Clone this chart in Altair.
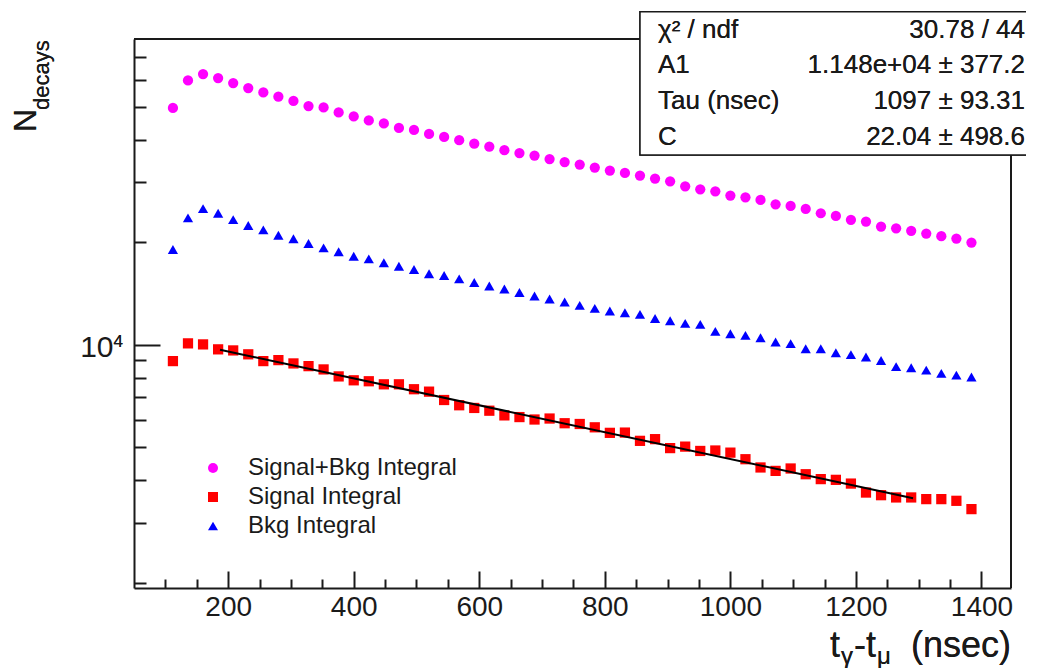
import altair as alt
import pandas as pd

# ---------------- data ----------------
t_ns = [112, 136, 160, 184, 208, 232, 256, 280, 304, 328, 352, 376, 400, 424, 448, 472, 496, 520,
        544, 568, 592, 616, 640, 664, 688, 712, 736, 760, 784, 808, 832, 856, 880, 904, 928, 952,
        976, 1000, 1024, 1048, 1072, 1096, 1120, 1144, 1168, 1192, 1216, 1240, 1264, 1288, 1312,
        1336, 1360, 1384]

sig_bkg = [49550, 59700, 62330, 60670, 58660, 56720, 55060, 53490, 51950, 50220, 49750, 48090,
           46810, 45560, 44650, 43290, 42710, 41570, 40740, 39860, 38930, 38150, 37260, 36520,
           35910, 35070, 34370, 33790, 33110, 32450, 31950, 31370, 30740, 30180, 29180, 28600,
           28210, 27410, 27090, 26620, 25840, 25560, 25050, 24320, 23890, 23260, 22990, 22230,
           21970, 21590, 21200, 20820, 20500, 19950]

signal = [8950, 10090, 10020, 9690, 9620, 9370, 8950, 9010, 8810, 8650, 8460, 8070, 7860, 7810,
          7650, 7650, 7400, 7280, 6880, 6640, 6520, 6400, 6200, 6130, 6030, 6070, 5880, 5850,
          5720, 5510, 5520, 5220, 5280, 4970, 5020, 4875, 4890, 4820, 4610, 4360, 4260, 4330,
          4165, 4030, 4010, 3910, 3680, 3615, 3560, 3560, 3520, 3520, 3480, 3290]

bkg = [19030, 23570, 25100, 24320, 23300, 22380, 21740, 20960, 20460, 19820, 19250, 18740, 18190,
       17870, 17400, 17000, 16630, 16150, 15970, 15600, 15230, 14870, 14570, 14230, 13900, 13620,
       13350, 13040, 12780, 12560, 12410, 12270, 11940, 11760, 11550, 11470, 10940, 10770, 10650,
       10480, 10180, 10070, 9730, 9730, 9470, 9350, 9200, 8990, 8620, 8560, 8420, 8240, 8140, 8040]

series_names = ["Signal+Bkg Integral", "Signal Integral", "Bkg Integral"]
series_colors = ["#ff00ff", "#ff0000", "#0000ff"]
series_shapes = ["circle", "square", "triangle-up"]

fit_t = [187, 1291]
fit_n = [9661, 3543]

x_major_ticks = [200, 400, 600, 800, 1000, 1200, 1400]
x_minor_ticks = [100, 150, 250, 300, 350, 450, 500, 550, 650, 700, 750, 850, 900, 950,
                 1050, 1100, 1150, 1250, 1300, 1350]
y_major_ticks = [10000]
y_minor_ticks = [2000, 3000, 4000, 5000, 6000, 7000, 8000, 9000,
                 20000, 30000, 40000, 50000, 60000, 70000]

stats_names = ["\u03c7\u00b2 / ndf", "A1", "Tau (nsec)", "C"]
stats_values = ["30.78 / 44", "1.148e+04 \u00b1 377.2", "1097 \u00b1 93.31", "22.04 \u00b1 498.6"]

# ---------------- layout ----------------
W, H = 877, 549
LEFT, TOP = 134, 39          # page position of plot origin
FONT = "Liberation Sans"
INK = "#1a1a1a"

rows = []
for name, vals in zip(series_names, [sig_bkg, signal, bkg]):
    for t, n in zip(t_ns, vals):
        rows.append({"t": t, "n": n, "series": name})
df = pd.DataFrame(rows)
fit_df = pd.DataFrame({"t": fit_t, "n": fit_n})

xs = alt.Scale(domain=[50, 1447], nice=False, zero=False)
ys = alt.Scale(type="log", domain=[1930, 79000], nice=False)

legend = alt.Legend(title=None, orient="none", legendX=67, legendY=417, symbolSize=100,
                    labelFont=FONT, labelFontSize=24, labelColor=INK, labelOffset=23,
                    rowPadding=5, padding=0, symbolStrokeWidth=0, labelLimit=400)
color = alt.Color("series:N", scale=alt.Scale(domain=series_names, range=series_colors), legend=legend)
shape = alt.Shape("series:N", scale=alt.Scale(domain=series_names, range=series_shapes), legend=legend)

common_axis = dict(grid=False, title=None, tickColor=INK, domainColor=INK, tickWidth=2, domainWidth=2)

ax_x_lab = alt.Axis(orient="bottom", values=x_major_ticks, ticks=False, domain=True, format="d",
                    labelFont=FONT, labelFontSize=28, labelColor=INK, labelPadding=5, **common_axis)
ax_x_maj = alt.Axis(orient="bottom", values=x_major_ticks, labels=False, domain=False,
                    tickSize=17, offset=-17, **common_axis)
ax_x_min = alt.Axis(orient="bottom", values=x_minor_ticks, labels=False, domain=False,
                    tickSize=9, offset=-9, **common_axis)
ax_y_lab = alt.Axis(orient="left", values=y_major_ticks, ticks=False, domain=True,
                    labelExpr="'10'", labelFont=FONT, labelFontSize=30, labelColor=INK,
                    labelPadding=21, labelOffset=3, **common_axis)
ax_y_maj = alt.Axis(orient="left", values=y_major_ticks, labels=False, domain=False,
                    tickSize=26, offset=-26, **common_axis)
ax_y_min = alt.Axis(orient="left", values=y_minor_ticks, labels=False, domain=False,
                    tickSize=12, offset=-12, **common_axis)

base = alt.Chart(df)


def pts(name, ax_x, ax_y):
    return base.transform_filter(alt.datum.series == name).mark_point(
        filled=True, opacity=1, size=105, strokeWidth=0
    ).encode(
        x=alt.X("t:Q", scale=xs, axis=ax_x),
        y=alt.Y("n:Q", scale=ys, axis=ax_y),
        color=color,
        shape=shape,
    )


layer_sb = pts(series_names[0], ax_x_lab, ax_y_lab)
layer_s = pts(series_names[1], ax_x_maj, ax_y_maj)
layer_b = pts(series_names[2], ax_x_min, ax_y_min)

fit_line = alt.Chart(fit_df).mark_line(color="black", strokeWidth=2).encode(
    x=alt.X("t:Q", scale=xs, axis=None),
    y=alt.Y("n:Q", scale=ys, axis=None),
)

frame_top = alt.Chart(fit_df).mark_rule(color=INK, strokeWidth=2).encode(
    x=alt.value(0), x2=alt.value(W), y=alt.value(0))
frame_right = alt.Chart(fit_df).mark_rule(color=INK, strokeWidth=2).encode(
    x=alt.value(W), y=alt.value(0), y2=alt.value(H))

# stats box (page coords -> plot coords)
box = alt.Chart(fit_df).mark_rect(fill="white", stroke=INK, strokeWidth=1.5).encode(
    x=alt.value(640 - LEFT), x2=alt.value(1032 - LEFT),
    y=alt.value(11.7 - TOP), y2=alt.value(155 - TOP))

texts = []
row_centers = [29.6, 65.4, 101.3, 137.1]
for nm, val, yc in zip(stats_names, stats_values, row_centers):
    texts.append(alt.Chart(fit_df).mark_text(
        text=nm, font=FONT, fontSize=26, color=INK, align="left", baseline="middle"
    ).encode(x=alt.value(658 - LEFT), y=alt.value(yc - TOP)))
    texts.append(alt.Chart(fit_df).mark_text(
        text=val, font=FONT, fontSize=26, color=INK, align="right", baseline="middle"
    ).encode(x=alt.value(1025 - LEFT), y=alt.value(yc - TOP)))


def txt(s, px, py, size, align="left", angle=0, baseline="alphabetic"):
    kw = dict(text=s, font=FONT, fontSize=size, color=INK, align=align, baseline=baseline)
    if angle:
        kw["angle"] = angle
    return alt.Chart(fit_df).mark_text(**kw).encode(x=alt.value(px - LEFT), y=alt.value(py - TOP))


titles = [
    # superscript of the 10^4 label
    txt("4", 113.5, 347, 17),
    # y title N_decays
    txt("N", 36, 132, 32, angle=270),
    txt("decays", 49, 110, 22, angle=270),
    # x title t_gamma - t_mu (nsec)
    txt("t", 830, 657, 36),
    txt("\u03b3", 841, 664, 24),
    txt("-t", 854, 657, 36),
    txt("\u03bc", 877, 664, 24),
    txt("(nsec)", 1011, 657, 36, align="right"),
]

chart = alt.layer(
    frame_top, frame_right, layer_sb, layer_s, layer_b, fit_line, box, *texts, *titles
).resolve_axis(
    x="independent", y="independent"
).properties(
    width=W, height=H,
    padding={"left": LEFT - 8, "top": TOP - 8, "right": 15, "bottom": 82},
    autosize=alt.AutoSizeParams(type="none"),
    background="white",
).configure_view(stroke=None)

chart.save("out.html", embed_options={"renderer": "svg", "actions": False})
